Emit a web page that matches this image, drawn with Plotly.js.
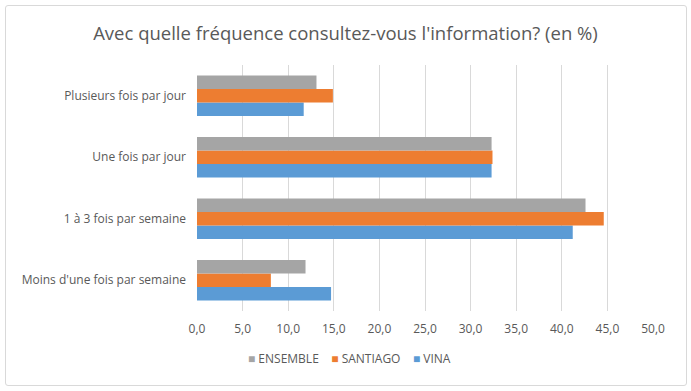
<!DOCTYPE html>
<html>
<head>
<meta charset="utf-8">
<script src="https://cdn.plot.ly/plotly-3.0.1.min.js"></script>
<style>
  html, body { margin: 0; padding: 0; background: #fff; }
  #wrap { position: relative; width: 691px; height: 391px; }
  #chart { width: 691px; height: 391px; }
  #frame { position: absolute; left: 5px; top: 5px; width: 680px; height: 379px; border: 1px solid #D9D9D9; border-radius: 3px; pointer-events: none; }
</style>
</head>
<body>
<div id="wrap">
  <div id="chart"></div>
  <div id="frame"></div>
</div>
<script>
// categories listed bottom-to-top
const categories = ["Moins d'une fois par semaine", "1 à 3 fois par semaine", "Une fois par jour", "Plusieurs fois par jour"];
const vina = [14.7, 41.2, 32.3, 11.7];
const santiago = [8.1, 44.6, 32.4, 14.9];
const ensemble = [11.9, 42.6, 32.3, 13.1];
const tickVals = [0, 5, 10, 15, 20, 25, 30, 35, 40, 45, 50];
const tickText = ["0,0", "5,0", "10,0", "15,0", "20,0", "25,0", "30,0", "35,0", "40,0", "45,0", "50,0"];
const seriesNames = ["ENSEMBLE", "SANTIAGO", "VINA"];
const seriesColors = ["#A5A5A5", "#ED7D31", "#5B9BD5"];

const font = "Open Sans, sans-serif";
const traces = [
  { name: "VINA", x: vina, y: categories, type: "bar", orientation: "h", marker: { color: "#5B9BD5" }, showlegend: false },
  { name: "SANTIAGO", x: santiago, y: categories, type: "bar", orientation: "h", marker: { color: "#ED7D31" }, showlegend: false },
  { name: "ENSEMBLE", x: ensemble, y: categories, type: "bar", orientation: "h", marker: { color: "#A5A5A5" }, showlegend: false }
];

const legendText = seriesNames.map((n, i) => `<span style="color:${seriesColors[i]}">■</span> ${n}`).join("&nbsp;&nbsp;&nbsp;&nbsp;");

const layout = {
  width: 691, height: 391,
  margin: { l: 197, r: 38, t: 65, b: 80 },
  paper_bgcolor: "rgba(0,0,0,0)",
  plot_bgcolor: "#fff",
  barmode: "group",
  bargap: 0.34,
  bargroupgap: 0,
  font: { family: font, color: "#595959", size: 12 },
  title: { text: "Avec quelle fréquence consultez-vous l'information? (en %)", font: { family: font, size: 18.5, color: "#595959" }, x: 0.5, xref: "container", xanchor: "center", y: 0.915, yref: "container", yanchor: "middle" },
  xaxis: {
    range: [0, 50], tickvals: tickVals, ticktext: tickText,
    showgrid: true, gridcolor: "#D9D9D9", gridwidth: 1, zeroline: false,
    showline: false, ticks: "", ticklabelstandoff: 9,
    tickfont: { family: font, size: 12, color: "#595959" }, fixedrange: true
  },
  yaxis: {
    type: "category", showgrid: false, zeroline: false, showline: false, ticks: "",
    ticklabelstandoff: 10,
    tickfont: { family: font, size: 12, color: "#595959" }, fixedrange: true
  },
  showlegend: false,
  annotations: [{
    xref: "paper", yref: "paper", x: (349 - 197) / (691 - 197 - 38), y: -(358 - 311) / (311 - 65),
    xanchor: "center", yanchor: "middle", showarrow: false,
    text: legendText, font: { family: font, size: 12, color: "#595959" }
  }]
};

Plotly.newPlot("chart", traces, layout, { displayModeBar: false, staticPlot: true });
</script>
</body>
</html>
